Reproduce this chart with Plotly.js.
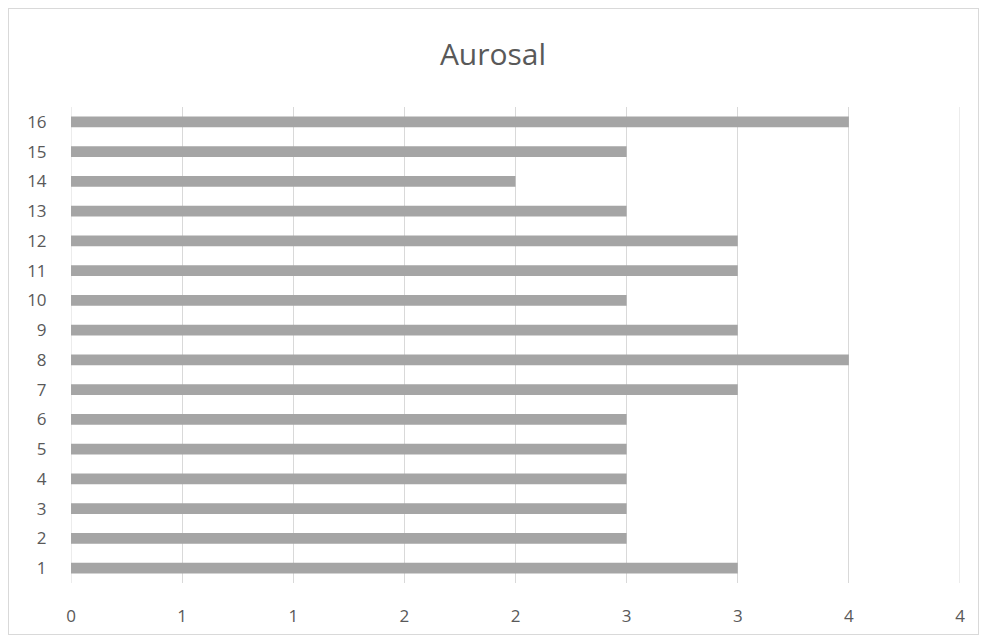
<!DOCTYPE html>
<html>
<head>
<meta charset="utf-8">
<script src="https://cdn.plot.ly/plotly-3.0.1.min.js"></script>
<style>
html,body{margin:0;padding:0;background:#fff;}
#wrap{position:relative;width:986px;height:642px;}
#frame{position:absolute;left:8px;top:8px;width:969px;height:625px;border:1px solid #D9D9D9;pointer-events:none;}
#chart{position:absolute;left:0;top:0;width:986px;height:642px;}
</style>
</head>
<body>
<div id="wrap"><div id="chart"></div><div id="frame"></div></div>
<script>
const categories = ['1','2','3','4','5','6','7','8','9','10','11','12','13','14','15','16'];
const values = [3, 2.5, 2.5, 2.5, 2.5, 2.5, 3, 3.5, 3, 2.5, 3, 3, 2.5, 2, 2.5, 3.5];
const tickValues = [0, 0.5, 1, 1.5, 2, 2.5, 3, 3.5, 4];
const tickLabels = ['0', '1', '1', '2', '2', '3', '3', '4', '4'];
const chartTitle = 'Aurosal';

const font = {family: 'Open Sans, Liberation Sans, sans-serif', color: '#595959'};

Plotly.newPlot('chart', [{
  type: 'bar',
  orientation: 'h',
  y: categories,
  x: values,
  width: 0.36,
  marker: {color: '#A5A5A5', line: {width: 0}},
  hoverinfo: 'none'
}], {
  width: 986,
  height: 642,
  margin: {l: 71, r: 26, t: 107, b: 59},
  paper_bgcolor: 'rgba(0,0,0,0)',
  plot_bgcolor: '#fff',
  showlegend: false,
  title: {text: chartTitle, font: Object.assign({size: 30}, font), x: 0.5, xanchor: 'center', y: 0.915, yanchor: 'middle'},
  xaxis: {
    range: [0, 4],
    tickvals: tickValues,
    ticktext: tickLabels,
    showgrid: true,
    gridcolor: '#D9D9D9',
    gridwidth: 1,
    zeroline: false,
    showline: false,
    ticks: 'outside',
    ticklen: 18,
    tickcolor: 'rgba(0,0,0,0)',
    tickfont: Object.assign({size: 17}, font),
    fixedrange: true
  },
  yaxis: {
    type: 'category',
    categoryorder: 'array',
    categoryarray: categories,
    range: [-0.5, 15.5],
    showgrid: false,
    zeroline: false,
    showline: false,
    ticks: 'outside',
    ticklen: 20,
    tickcolor: 'rgba(0,0,0,0)',
    tickfont: Object.assign({size: 17}, font),
    fixedrange: true
  },
  shapes: [{
    type: 'line', xref: 'x', yref: 'paper', x0: 0, x1: 0, y0: 0, y1: 1,
    line: {color: '#D9D9D9', width: 1}, layer: 'below'
  }, {
    type: 'line', xref: 'x', yref: 'paper', x0: 4, x1: 4, y0: 0, y1: 1,
    line: {color: '#D9D9D9', width: 1}, layer: 'below'
  }]
}, {staticPlot: true, displayModeBar: false});
</script>
</body>
</html>
